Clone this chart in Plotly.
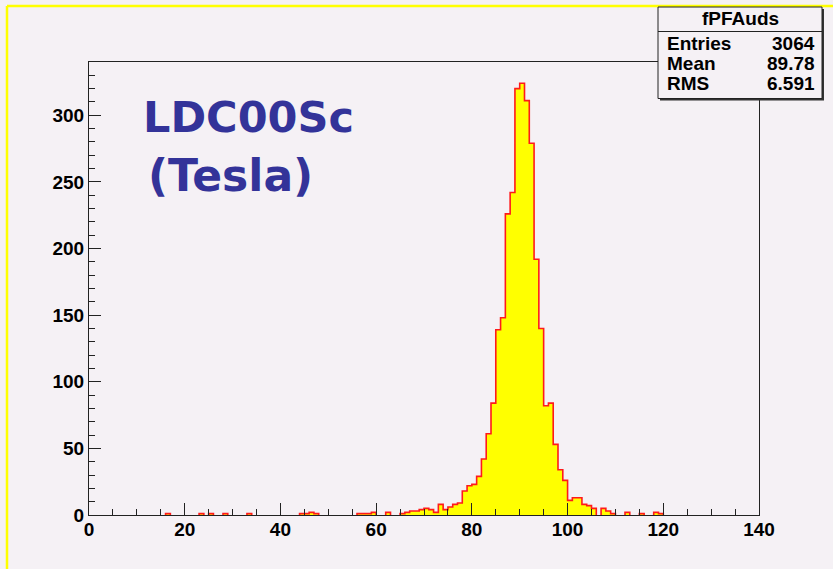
import plotly.graph_objects as go

# ---- data (histogram fPFAuds, 1-unit bins from 0 to 140) ----
bin_start = 0
bin_width = 1
counts = [
    0, 0, 0, 0, 0, 0, 0, 0, 0, 0,          # 0-9
    0, 0, 0, 0, 0, 0, 1, 0, 0, 0,          # 10-19
    0, 0, 0, 1, 0, 1, 0, 0, 1, 0,          # 20-29
    0, 0, 0, 1, 0, 0, 0, 0, 0, 0,          # 30-39
    0, 0, 0, 0, 1, 1, 2, 1, 0, 0,          # 40-49
    0, 0, 0, 0, 0, 0, 1, 1, 1, 2,          # 50-59
    0, 0, 2, 0, 0, 1, 2, 3, 3, 4,          # 60-69
    5, 4, 2, 8, 4, 6, 8, 9, 18, 22,        # 70-79
    23, 29, 42, 61, 84, 139, 148, 226, 242, 320,   # 80-89
    324, 311, 279, 192, 140, 82, 84, 53, 34, 26,   # 90-99
    11, 13, 13, 8, 7, 5, 0, 5, 3, 1,       # 100-109
    0, 0, 2, 0, 0, 1, 0, 0, 2, 1,          # 110-119
    0, 0, 0, 0, 0, 0, 0, 0, 0, 0,          # 120-129
    0, 0, 0, 0, 0, 0, 0, 0, 0, 0,          # 130-139
]
x_range = [0, 140]
y_range = [0, 340]
x_ticks = [0, 20, 40, 60, 80, 100, 120, 140]
y_ticks = [0, 50, 100, 150, 200, 250, 300]
stats_title = "fPFAuds"
stats_labels = ["Entries", "Mean", "RMS"]
stats_values = ["3064", "89.78", "6.591"]
title_lines = ["LDC00Sc", "(Tesla)"]

# ---- layout geometry (pixels) ----
W, H = 833, 569
L, R, T, B = 89, 759, 62, 515
BG = "#f5f1f5"

def px(x):
    return (x - L) / (R - L)

def py(y):
    return (B - y) / (B - T)

edges = [bin_start + i * bin_width for i in range(len(counts) + 1)]

# fill trace
fill_x = edges
fill_y = counts + [counts[-1]]

# outline trace (breaks over empty bins)
ox, oy = [], []
prev = 0
for i, v in enumerate(counts):
    a, b = edges[i], edges[i + 1]
    if v > 0:
        if prev == 0:
            ox.append(a); oy.append(0)
        ox += [a, b]; oy += [v, v]
    else:
        if prev > 0:
            ox.append(a); oy.append(0)
            ox.append(None); oy.append(None)
    prev = v
if prev > 0:
    ox.append(edges[-1]); oy.append(0)

fig = go.Figure()
fig.add_trace(go.Scatter(x=fill_x, y=fill_y, mode="lines", line_shape="hv",
                         line=dict(width=0, color="#ffff00"), fill="tozeroy",
                         fillcolor="#ffff00", hoverinfo="skip", showlegend=False))
fig.add_trace(go.Scatter(x=ox, y=oy, mode="lines", line=dict(color="#ff1a1a", width=1.6),
                         connectgaps=False, hoverinfo="skip", showlegend=False))

tickfont = dict(family="Liberation Sans", size=19, color="black", weight="bold")
fig.update_xaxes(range=x_range, tickvals=x_ticks, ticks="inside", ticklen=12, tickwidth=1,
                 tickcolor="#222", minor=dict(dtick=5, ticks="inside", ticklen=6, tickcolor="#222"),
                 showgrid=False, zeroline=False, showline=True, linecolor="#222", linewidth=1,
                 mirror=True, tickfont=tickfont, ticklabelstandoff=-3)
fig.update_yaxes(range=y_range, tickvals=y_ticks, ticks="inside", ticklen=12, tickwidth=1,
                 tickcolor="#222", minor=dict(dtick=10, ticks="inside", ticklen=6, tickcolor="#222"),
                 showgrid=False, zeroline=False, showline=True, linecolor="#222", linewidth=1,
                 mirror=True, tickfont=tickfont)

shapes = []
# yellow canvas border (top and left)
shapes.append(dict(type="line", xref="paper", yref="paper", x0=px(7), x1=px(W), y0=py(6), y1=py(6),
                   line=dict(color="#ffff00", width=2.5), layer="above"))
shapes.append(dict(type="line", xref="paper", yref="paper", x0=px(7), x1=px(7), y0=py(6), y1=py(H),
                   line=dict(color="#ffff00", width=2.5), layer="above"))
# stats box shadow and box
shapes.append(dict(type="rect", xref="paper", yref="paper", x0=px(660), x1=px(824), y0=py(9), y1=py(100.5),
                   fillcolor="#333", line=dict(width=0), layer="above"))
shapes.append(dict(type="rect", xref="paper", yref="paper", x0=px(658), x1=px(822), y0=py(7), y1=py(98.5),
                   fillcolor=BG, line=dict(color="#222", width=1), layer="above"))
shapes.append(dict(type="line", xref="paper", yref="paper", x0=px(658), x1=px(822), y0=py(31.5), y1=py(31.5),
                   line=dict(color="#222", width=1), layer="above"))

annotations = []
title_color = "#333399"
annotations.append(dict(xref="paper", yref="paper", x=px(141), y=py(117.5), text=title_lines[0],
                        showarrow=False, xanchor="left", yanchor="middle",
                        font=dict(family="DejaVu Sans", size=43, color=title_color, weight="bold")))
annotations.append(dict(xref="paper", yref="paper", x=px(146), y=py(176), text=title_lines[1],
                        showarrow=False, xanchor="left", yanchor="middle",
                        font=dict(family="DejaVu Sans", size=44, color=title_color, weight="bold")))
sfont = dict(family="Liberation Sans", size=19, color="black", weight="bold")
annotations.append(dict(xref="paper", yref="paper", x=px(740), y=py(18.5), text=stats_title,
                        showarrow=False, xanchor="center", yanchor="middle", font=sfont))
row_y = [43.5, 63.5, 83.5]
for lab, val, yy in zip(stats_labels, stats_values, row_y):
    annotations.append(dict(xref="paper", yref="paper", x=px(665), y=py(yy), text=lab,
                            showarrow=False, xanchor="left", yanchor="middle", font=sfont))
    annotations.append(dict(xref="paper", yref="paper", x=px(817), y=py(yy), text=val,
                            showarrow=False, xanchor="right", yanchor="middle", font=sfont))

fig.update_layout(width=W, height=H, margin=dict(l=L, r=W - R, t=T, b=H - B, pad=0),
                  paper_bgcolor=BG, plot_bgcolor=BG, shapes=shapes, annotations=annotations,
                  showlegend=False)

fig.write_html("out.html")
